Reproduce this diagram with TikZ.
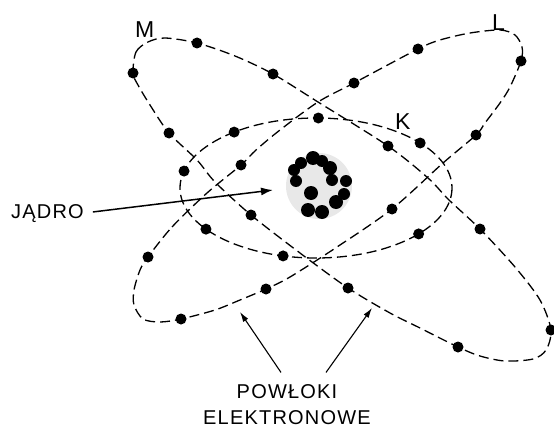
\documentclass[tikz,border=0pt]{standalone}
\usepackage{fontspec}
\setmainfont{Liberation Sans}
\usetikzlibrary{arrows.meta,calc}

\begin{document}
\begin{tikzpicture}[x=1pt,y=-1pt,
    shell/.style={line width=1.3pt,dash pattern=on 10pt off 5pt},
    electron/.style={fill=black},
    pointer/.style={line width=1.1pt,-{Latex[length=10pt,width=6pt]}},
    txt/.style={inner sep=0pt,font=\fontsize{20}{26}\selectfont\addfontfeature{LetterSpace=6}},
    shelltag/.style={inner sep=0pt,font=\fontsize{23}{26}\selectfont}]
\useasboundingbox (0,0) rectangle (554,428);

% jadro
\node[circle,fill=gray!18,minimum size=66pt,inner sep=0pt] (jadro) at (319,186) {};
\foreach \x/\y/\r in {313/158/7,322/161/6,330/168/7,332/180/6,346/181/6,344/194/6,
    336/202/7,322/212/7,308/210/7,296/181/6,294/170/6,301/163/6,311/193/7}
  \fill (\x,\y) circle (\r pt);

% powloka K
\draw[shell] (316,188) ellipse [x radius=136,y radius=70];
\foreach \t in {41,104,144,194,233,271,320}
  \fill[electron] ({316+136*cos(\t)},{188+70*sin(\t)}) circle (5.5pt);

% powloka L
\draw[shell] plot[smooth cycle] coordinates {(148,257) (172,227) (207,193) (241,165)
    (256,150) (280,130) (318,102) (354,83) (418,49) (440,40) (470,33) (500,30) (515,35)
    (522,47) (521,61) (510,87) (500,103) (485,123) (476,135) (443,163) (392,209)
    (337,247) (290,277) (266,289) (240,300) (215,310) (181,319) (160,322) (143,319)
    (134,305) (134,290) (140,270)};
\foreach \x/\y in {148/257,241/165,354/83,418/49,521/61,476/135,392/209,266/289,181/319}
  \fill[electron] (\x,\y) circle (5.5pt);

% powloka M
\draw[shell] plot[smooth cycle] coordinates {(133,73) (136,52) (148,42) (165,38)
    (197,43) (235,56) (273,74) (318,102) (388,146) (428,178) (449,200) (480,229)
    (515,267) (540,300) (551,330) (546,350) (533,359) (505,361) (480,356) (458,347)
    (420,328) (390,313) (348,288) (300,253) (251,215) (215,182) (197,160) (169,133)
    (150,105) (138,85)};
\foreach \x/\y in {133/73,197/43,273/74,388/146,480/229,551/330,458/347,348/288,251/215,169/133}
  \fill[electron] (\x,\y) circle (5.5pt);

\node[shelltag,anchor=base west] (m) at (135,38) {M};
\node[shelltag,anchor=base west] (l) at (492,31) {L};
\node[shelltag,anchor=base west] (k) at (395,129) {K};

\node[txt,anchor=base west] (jadrotxt) at (11,218) {JĄDRO};
\coordinate (jadroin) at (273,190);
\draw[line width=1.5pt,-{Latex[length=12pt,width=8pt]},shorten <=9pt] (jadrotxt.east) -- (jadroin);

\node[txt,align=center,anchor=south] (powloki) at (287,425) {POWŁOKI\\ELEKTRONOWE};
\coordinate (lshell) at (240,312);
\coordinate (mshell) at (372,308);
\draw[pointer] ($(powloki.north)+(-6,-12)$) -- (lshell);
\draw[pointer] ($(powloki.north)+(39,-12)$) -- (mshell);
\end{tikzpicture}
\end{document}
